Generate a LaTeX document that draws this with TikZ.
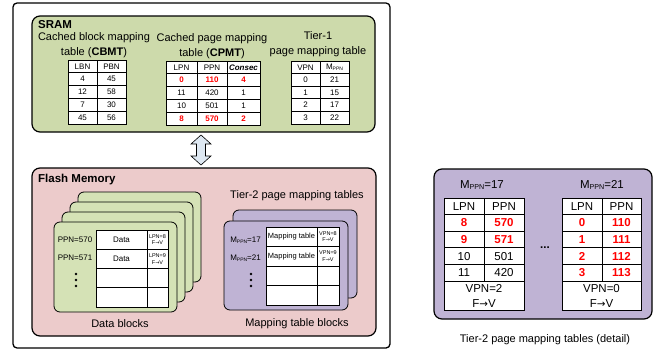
\documentclass[tikz,border=0pt]{standalone}
\usepackage{fontspec}
\setmainfont{Liberation Sans}
\newfontfamily\arrowfont{DejaVu Sans}
\usetikzlibrary{positioning}
\usetikzlibrary{calc}

\definecolor{sramgreen}{RGB}{205,218,171}
\definecolor{blockgreen}{RGB}{213,226,182}
\definecolor{flashpink}{RGB}{236,203,203}
\definecolor{mappurple}{RGB}{191,179,212}
\definecolor{arrowblue}{RGB}{222,232,242}

\newcommand{\mppn}{M\raisebox{-0.2ex}{\scalebox{0.62}{PPN}}}
\newcommand{\fvtag}{F{\arrowfont\scalebox{0.9}{→}}V}

\tikzset{
  frame/.style={draw=black, line width=1.3pt, rounded corners=4pt},
  panel/.style={draw=black, line width=1.2pt, rounded corners=8pt},
  card/.style={draw=black, line width=0.8pt, rounded corners=6pt},
  cell/.style={draw=black, line width=0.7pt, fill=white},
  dot/.style={fill=black, draw=none},
  title/.style={font=\fontsize{11.5}{13}\selectfont\bfseries, inner sep=0pt, anchor=west},
  caption/.style={font=\fontsize{11}{15}\selectfont, inner sep=0pt, align=center},
  celltext/.style={font=\fontsize{8}{9}\selectfont, inner sep=0pt},
  labeltext/.style={font=\fontsize{8}{9}\selectfont, inner sep=0pt},
  minitext/.style={font=\fontsize{7.5}{8}\selectfont, inner sep=0pt},
  tinytext/.style={font=\fontsize{5.5}{6.5}\selectfont, inner sep=0pt, align=center},
  detailtext/.style={font=\fontsize{11.5}{15}\selectfont, inner sep=0pt, align=center},
  redrow/.style={text=red, execute at begin node=\bfseries},
  normrow/.style={}
}

\begin{document}
\begin{tikzpicture}[x=1pt,y=-1pt]
\useasboundingbox (0,0) rectangle (657,351);

% outer frame
\draw[frame] (13,3) rectangle (390,348);

% SRAM
\filldraw[panel, fill=sramgreen] (32,16) rectangle (375,132);
\node[title] (sram) at (38,25) {SRAM};
\node[caption] (cbmtlbl) at (94,45.5) {Cached block mapping\\table (\textbf{CBMT})};
\node[caption] (cpmtlbl) at (212,46) {Cached page mapping\\table (\textbf{CPMT})};
\node[caption] (tieronelbl) at (318,44.5) {Tier-1\\page mapping table};

% CBMT
\foreach \l/\p [count=\i from 0] in {LBN/PBN,4/45,12/58,7/30,45/56} {
  \draw[cell] (68,{60+12.8*\i}) rectangle (97,{72.8+12.8*\i});
  \draw[cell] (97,{60+12.8*\i}) rectangle (126,{72.8+12.8*\i});
  \node[celltext] (cbmt-l\i) at (82.5,{66.4+12.8*\i}) {\l};
  \node[celltext] (cbmt-p\i) at (111.5,{66.4+12.8*\i}) {\p};
}

% CPMT
\foreach \x/\w in {166/31,197/30,227/33}
  \draw[cell] (\x,61) rectangle +(\w,12.8);
\node[celltext] (cpmt-h1) at (181.5,67.4) {LPN};
\node[celltext] (cpmt-h2) at (212,67.4) {PPN};
\node[celltext] (cpmt-h3) at (243.5,67.4) {\bfseries\itshape Consec};
\foreach \s/\a/\b/\d [count=\i] in {redrow/0/110/4,normrow/11/420/1,normrow/10/501/1,redrow/8/570/2} {
  \draw[cell] (166,{61+12.8*\i}) rectangle (197,{73.8+12.8*\i});
  \draw[cell] (197,{61+12.8*\i}) rectangle (227,{73.8+12.8*\i});
  \draw[cell] (227,{61+12.8*\i}) rectangle (260,{73.8+12.8*\i});
  \node[celltext,\s] (cpmt-a\i) at (181.5,{67.4+12.8*\i}) {\a};
  \node[celltext,\s] (cpmt-b\i) at (212,{67.4+12.8*\i}) {\b};
  \node[celltext,\s] (cpmt-c\i) at (243.5,{67.4+12.8*\i}) {\d};
}

% Tier-1 table
\foreach \v/\m [count=\i from 0] in {VPN/\mppn,0/21,1/15,2/17,3/22} {
  \draw[cell] (291,{61+12.6*\i}) rectangle (320,{73.6+12.6*\i});
  \draw[cell] (320,{61+12.6*\i}) rectangle (349,{73.6+12.6*\i});
  \node[celltext] (tone-v\i) at (305.5,{67.3+12.6*\i}) {\v};
  \node[celltext] (tone-m\i) at (334.5,{67.3+12.6*\i}) {\m};
}

% double arrow
\filldraw[draw=black, line width=0.6pt, fill=arrowblue]
  (201,135) -- (211,144) -- (205.5,144) -- (205.5,156) -- (211,156) -- (201,165)
  -- (191,156) -- (196.5,156) -- (196.5,144) -- (191,144) -- cycle;

% Flash memory
\filldraw[panel, fill=flashpink] (32,168) rectangle (376,336);
\node[title] (flash) at (38,180) {Flash Memory};

% data blocks
\foreach \k in {3,2,1}
  \filldraw[card, fill=blockgreen] ({54+8*\k},{222-10*\k}) rectangle +(123,90);
\filldraw[card, fill=blockgreen] (54,222) rectangle +(123,90);
\foreach \i in {0,...,3} {
  \draw[cell] (96,{230+19.25*\i}) rectangle (147,{249.25+19.25*\i});
  \draw[cell] (147,{230+19.25*\i}) rectangle (168,{249.25+19.25*\i});
}
\node[celltext] (data1) at (121.5,239.6) {Data};
\node[celltext] (data2) at (121.5,258.9) {Data};
\node[tinytext] (data1f) at (157.5,239.6) {LPN=8\\\fvtag};
\node[tinytext] (data2f) at (157.5,258.9) {LPN=9\\\fvtag};
\node[labeltext] (ppn570) at (75,240) {PPN=570};
\node[labeltext] (ppn571) at (75,258) {PPN=571};
\foreach \y in {274,280,286}
  \fill[dot] (76,\y) circle (1.3);
\node[caption] (datablk) at (120,324) {Data blocks};

% mapping table blocks
\node[caption] (tiertwolbl) at (297,196) {Tier-2 page mapping tables};
\filldraw[card, fill=mappurple] (233,210) rectangle +(124,88);
\filldraw[card, fill=mappurple] (224,221) rectangle +(124,89);
\foreach \i in {0,...,3} {
  \draw[cell] (266,{227+19.5*\i}) rectangle (317,{246.5+19.5*\i});
  \draw[cell] (317,{227+19.5*\i}) rectangle (339,{246.5+19.5*\i});
}
\node[minitext] (map1) at (291.5,236.8) {Mapping table};
\node[minitext] (map2) at (291.5,256.3) {Mapping table};
\node[tinytext] (map1f) at (328,236.8) {VPN=8\\\fvtag};
\node[tinytext] (map2f) at (328,256.3) {VPN=9\\\fvtag};
\node[labeltext] (mppn17) at (245.5,240) {\mppn=17};
\node[labeltext] (mppn21) at (245.5,258) {\mppn=21};
\foreach \y in {274,280,286}
  \fill[dot] (251,\y) circle (1.3);
\node[caption] (mapblk) at (297,324) {Mapping table blocks};

% detail
\filldraw[panel, fill=mappurple] (434,169) rectangle (652,319);
\node[detailtext] (detl17) at (482,185) {\mppn=17};
\node[detailtext] (detl21) at (602,185) {\mppn=21};
\foreach \s/\a/\b [count=\i from 0] in {normrow/LPN/PPN,redrow/8/570,redrow/9/571,normrow/10/501,normrow/11/420} {
  \draw[cell] (444,{198+16.6*\i}) rectangle (484,{214.6+16.6*\i});
  \draw[cell] (484,{198+16.6*\i}) rectangle (524,{214.6+16.6*\i});
  \node[detailtext,\s] (la\i) at (464,{206.3+16.6*\i}) {\a};
  \node[detailtext,\s] (lb\i) at (504,{206.3+16.6*\i}) {\b};
}
\draw[cell] (444,281) rectangle (524,310);
\node[detailtext] (lvpn) at (484,296) {VPN=2\\\fvtag};
\foreach \s/\a/\b [count=\i from 0] in {normrow/LPN/PPN,redrow/0/110,redrow/1/111,redrow/2/112,redrow/3/113} {
  \draw[cell] (562,{198+16.6*\i}) rectangle (602,{214.6+16.6*\i});
  \draw[cell] (602,{198+16.6*\i}) rectangle (641,{214.6+16.6*\i});
  \node[detailtext,\s] (ra\i) at (582,{206.3+16.6*\i}) {\a};
  \node[detailtext,\s] (rb\i) at (621.5,{206.3+16.6*\i}) {\b};
}
\draw[cell] (562,281) rectangle (641,310);
\node[detailtext] (rvpn) at (601.5,296) {VPN=0\\\fvtag};
\node[detailtext] (detdots) at (545,248) {\textbf{...}};
\node[caption] (detcap) at (545,340) {Tier-2 page mapping tables (detail)};
\end{tikzpicture}
\end{document}
